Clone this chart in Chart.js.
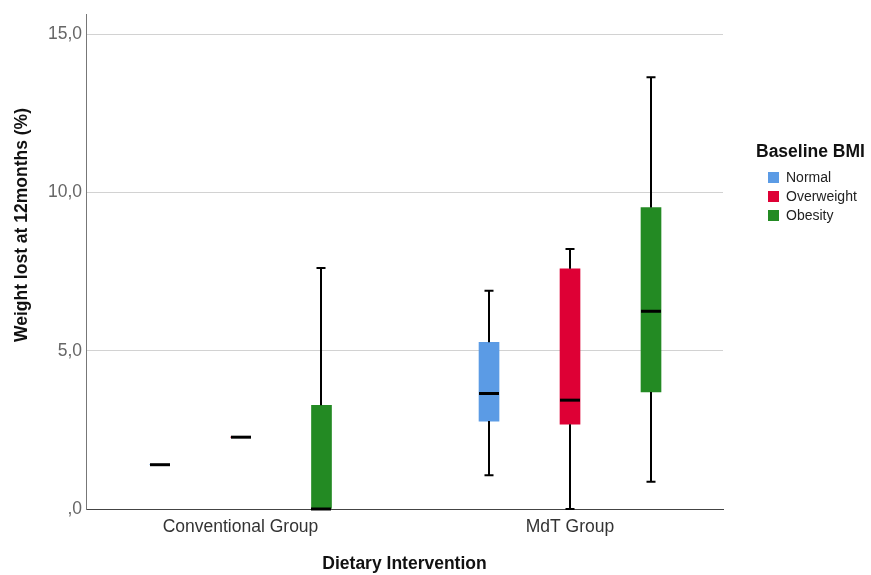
<!DOCTYPE html>
<html><head><meta charset="utf-8">
<script src="https://cdn.jsdelivr.net/npm/chart.js@4/dist/chart.umd.min.js"></script>
<style>html,body{margin:0;padding:0;background:#fff}#wrap{width:871px;height:575px;position:relative}</style>
</head><body><div id="wrap"><canvas id="c"></canvas></div>
<script>
// ---- data ----
const categories = ["Conventional Group", "MdT Group"];
const seriesNames = ["Normal", "Overweight", "Obesity"];
const seriesColors = ["#5B9BE5", "#DE0035", "#238A23"];
// five-number summaries, one per category: [min, q1, median, q3, max]
const normalStats     = [[1.40, 1.40, 1.40, 1.40, 1.40], [1.07, 2.78, 3.65, 5.27, 6.90]];
const overweightStats = [[2.27, 2.27, 2.27, 2.27, 2.27], [0.00, 2.68, 3.44, 7.59, 8.22]];
const obesityStats    = [[0.00, 0.00, 0.00, 3.28, 7.62], [0.86, 3.70, 6.25, 9.53, 13.65]];
const yTickValues = [0, 5, 10, 15];
const yTickLabels = [",0", "5,0", "10,0", "15,0"];
const xTitle = "Dietary Intervention";
const yTitle = "Weight lost at 12months (%)";
const legendTitle = "Baseline BMI";

const allStats = [normalStats, overweightStats, obesityStats];
const FONT = "'Liberation Sans', Arial, sans-serif";
Chart.defaults.font.family = FONT;

// layout constants (not data)
const groupOffsets = [-0.2458, 0, 0.2458];

const datasets = seriesNames.map((name, s) => ({
  label: name,
  backgroundColor: seriesColors[s],
  borderWidth: 0,
  barThickness: 20,
  grouped: false,
  data: allStats[s].map((st, i) => ({ x: i + groupOffsets[s], y: [st[1], st[3]] }))
}));

const boxPlugin = {
  id: 'boxWhiskers',
  afterDatasetsDraw(chart) {
    const ctx = chart.ctx, y = chart.scales.y;
    ctx.save();
    ctx.strokeStyle = '#000';
    chart.data.datasets.forEach((ds, d) => {
      const meta = chart.getDatasetMeta(d);
      meta.data.forEach((bar, i) => {
        const [mn, q1, md, q3, mx] = allStats[d][i];
        const cx = Math.round(bar.x);
        const half = bar.width / 2;
        ctx.lineWidth = 2;
        const cap = 4.5;
        if (mx > q3) {
          const a = y.getPixelForValue(q3), b = y.getPixelForValue(mx);
          ctx.beginPath(); ctx.moveTo(cx, a); ctx.lineTo(cx, b);
          ctx.moveTo(cx - cap, b); ctx.lineTo(cx + cap, b); ctx.stroke();
        }
        if (mn < q1) {
          const a = y.getPixelForValue(q1), b = y.getPixelForValue(mn);
          ctx.beginPath(); ctx.moveTo(cx, a); ctx.lineTo(cx, b);
          ctx.moveTo(cx - cap, b); ctx.lineTo(cx + cap, b); ctx.stroke();
        }
        ctx.lineWidth = 3;
        const m = y.getPixelForValue(md);
        ctx.beginPath(); ctx.moveTo(cx - half, m); ctx.lineTo(cx + half, m); ctx.stroke();
      });
    });
    ctx.restore();
  }
};

const textPlugin = {
  id: 'extraText',
  afterDraw(chart) {
    const ctx = chart.ctx;
    ctx.save();
    // y-axis title
    ctx.fillStyle = '#111';
    ctx.font = "bold 17.5px " + FONT;
    ctx.translate(22.5, 225);
    ctx.rotate(-Math.PI / 2);
    ctx.textAlign = 'center'; ctx.textBaseline = 'middle';
    ctx.fillText(yTitle, 0, 0);
    ctx.restore();
    // legend
    ctx.save();
    ctx.fillStyle = '#111';
    ctx.font = "bold 17.5px " + FONT;
    ctx.textAlign = 'left'; ctx.textBaseline = 'middle';
    ctx.fillText(legendTitle, 756, 152);
    ctx.font = "14px " + FONT;
    seriesNames.forEach((name, s) => {
      const yy = 178 + s * 19;
      ctx.fillStyle = seriesColors[s];
      ctx.fillRect(768, yy - 6, 11, 11);
      ctx.fillStyle = '#222';
      ctx.fillText(name, 786, yy);
    });
    ctx.restore();
  }
};

new Chart(document.getElementById('c'), {
  type: 'bar',
  data: { datasets },
  options: {
    responsive: true,
    maintainAspectRatio: false,
    animation: false,
    layout: { padding: { top: 13, right: 148, bottom: 0, left: 0 } },
    plugins: { legend: { display: false }, tooltip: { enabled: false } },
    scales: {
      x: {
        type: 'linear',
        offset: false,
        bounds: 'data',
        min: -0.4689, max: 1.4643,
        afterBuildTicks: s => { s.ticks = categories.map((c, i) => ({ value: i })); },
        afterFit: s => { s.height = 66; },
        ticks: { callback: v => categories[v], color: '#333', font: { size: 17.5 }, padding: 8, maxRotation: 0, autoSkip: false },
        grid: { display: false, drawTicks: false },
        border: { display: true, color: '#444', width: 1 },
        title: { display: true, text: xTitle, color: '#111', font: { size: 17.5, weight: 'bold' }, padding: 0 }
      },
      y: {
        min: 0, max: 15.63,
        afterBuildTicks: s => { s.ticks = yTickValues.map(v => ({ value: v })); },
        afterFit: s => { s.width = 86; },
        ticks: { callback: v => yTickLabels[yTickValues.indexOf(v)], color: '#666', font: { size: 17.5 }, padding: 4 },
        grid: { color: '#d2d2d2', lineWidth: 1, drawTicks: false },
        border: { display: true, color: '#777', width: 1 }
      }
    }
  },
  plugins: [boxPlugin, textPlugin]
});
</script>
</body></html>
